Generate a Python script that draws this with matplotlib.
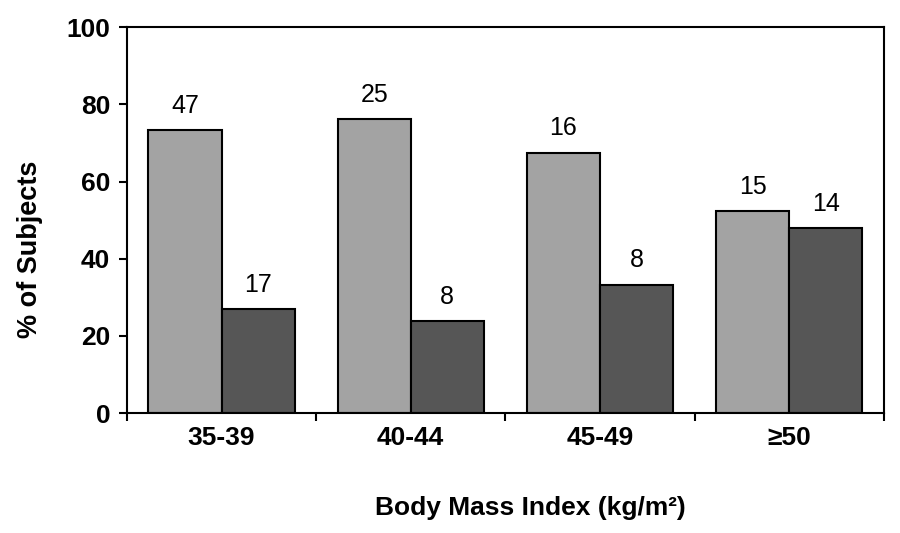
import numpy as np
import matplotlib
matplotlib.use("Agg")
import matplotlib.pyplot as plt

plt.rcParams['font.family'] = ['Liberation Sans', 'DejaVu Sans']

categories = ["35-39", "40-44", "45-49", "\u226550"]
pct_light = [73.3, 76.2, 67.4, 52.3]
pct_dark = [26.9, 23.8, 33.2, 47.9]
n_light = [47, 25, 16, 15]
n_dark = [17, 8, 8, 14]

fig = plt.figure(figsize=(9, 5.33), dpi=100)
ax = fig.add_axes([0.141, 0.225, 0.841, 0.724])

x = np.arange(len(categories))
w = 0.386
b1 = ax.bar(x - w / 2, pct_light, w, color="#a3a3a3", edgecolor="black", linewidth=1.5)
b2 = ax.bar(x + w / 2, pct_dark, w, color="#565656", edgecolor="black", linewidth=1.5)

for bars, counts in ((b1, n_light), (b2, n_dark)):
    for rect, n in zip(bars, counts):
        ax.annotate(str(n), (rect.get_x() + rect.get_width() / 2, rect.get_height()),
                    xytext=(0, 9), textcoords="offset points",
                    ha="center", va="bottom", fontsize=18)

ax.set_xlim(-0.5, len(categories) - 0.5)
ax.set_ylim(0, 100)
ax.set_yticks([0, 20, 40, 60, 80, 100])
ax.set_xticks(x)
ax.set_xticklabels(categories)
ax.set_xticks(np.arange(len(categories) + 1) - 0.5, minor=True)
ax.tick_params(axis="x", which="major", length=0, pad=9)
ax.tick_params(axis="x", which="minor", length=6, width=1.5, direction="out")
ax.tick_params(axis="y", length=6, width=1.5, direction="out", pad=6)
for lab in ax.get_xticklabels() + ax.get_yticklabels():
    lab.set_fontsize(19)
    lab.set_fontweight("bold")
for s in ax.spines.values():
    s.set_linewidth(1.5)

fig.text(30 / 900, 1 - 249 / 533, "% of Subjects", rotation=90, ha="center", va="center",
         fontsize=19.5, fontweight="bold")
fig.text(530 / 900, 1 - 508 / 533, "Body Mass Index (kg/m\u00b2)", ha="center", va="center",
         fontsize=19, fontweight="bold")

fig.savefig("out.png", dpi=100)
